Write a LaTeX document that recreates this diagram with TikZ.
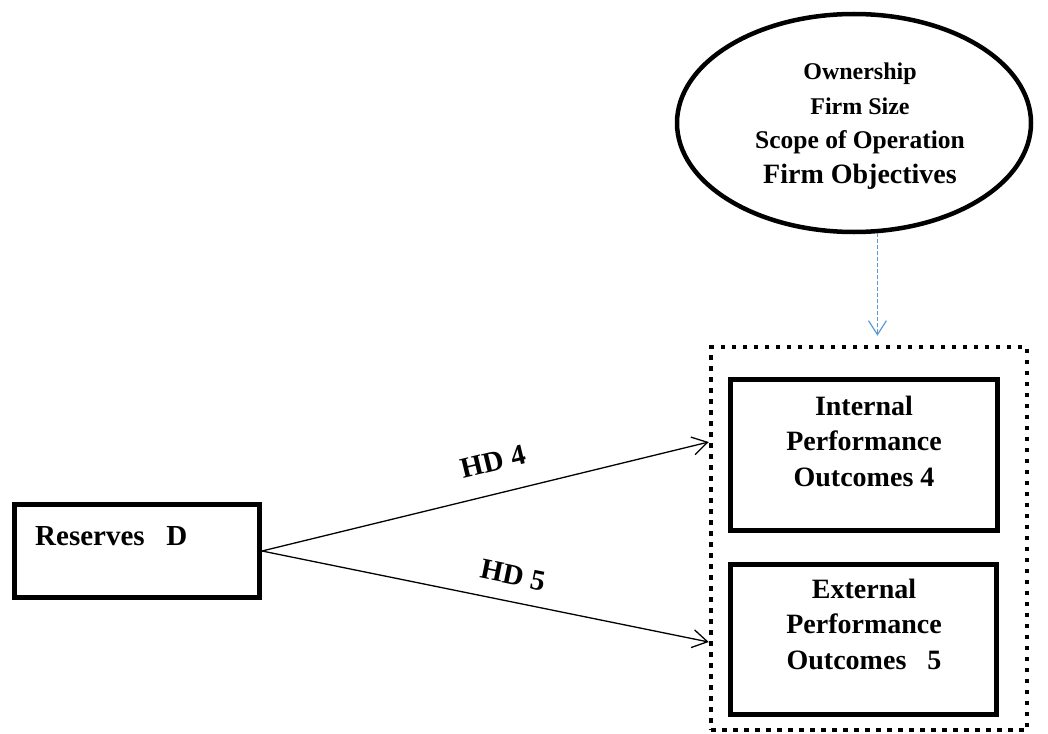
\documentclass[tikz,border=0pt]{standalone}
\usepackage{fontspec}
\setmainfont{Liberation Serif}
\usetikzlibrary{arrows.meta,shapes.geometric}
\definecolor{linkblue}{RGB}{91,155,213}
\begin{document}
\begin{tikzpicture}[x=1pt,y=-1pt,
  solidbox/.style={draw, rectangle, line width=5pt, inner sep=0pt},
  groupbox/.style={draw, rectangle, line width=4.5pt, dash pattern=on 4.5pt off 6.5pt, inner sep=0pt},
  factors/.style={draw, ellipse, line width=4.5pt, inner sep=0pt},
  boxtext/.style={align=center, inner sep=0pt, font=\fontsize{28}{35.5}\selectfont\bfseries},
  factortext/.style={align=center, inner sep=0pt, font=\fontsize{24}{34.5}\selectfont\bfseries},
  pathlabel/.style={font=\fontsize{29}{30}\selectfont\bfseries, inner sep=0pt},
  link/.style={line width=1.3pt, -{Straight Barb[length=15pt,width=18pt,line width=1.3pt]}},
  moderator/.style={draw=linkblue, line width=1.3pt, dash pattern=on 4pt off 2pt,
    -{Straight Barb[length=14pt,width=18pt,line width=1.2pt,sep=0pt]}}]
\useasboundingbox (0,0) rectangle (1048,733);

% contextual factors
\node[factors, minimum width=354pt, minimum height=218pt] (E) at (854,123) {};
\node[factortext] (Etxt) at (860,126)
  {Ownership\\Firm Size\\{\fontsize{25.5}{34.5}\selectfont Scope of Operation}\\{\fontsize{28}{34.5}\selectfont Firm Objectives}};

% grouped outcomes
\node[groupbox, minimum width=316pt, minimum height=383pt] (G) at (869,538.5) {};
\node[solidbox, minimum width=267pt, minimum height=151pt] (I) at (864,455) {};
\node[boxtext] (Itxt) at (864,441) {Internal\\Performance\\Outcomes 4};
\node[solidbox, minimum width=266pt, minimum height=150pt] (X) at (863.5,639.5) {};
\node[boxtext] (Xtxt) at (864,624) {External\\Performance\\Outcomes~~~5};

% predictor
\node[solidbox, minimum width=245pt, minimum height=93pt] (R) at (137,551) {};
\node[pathlabel, anchor=base west] (Rtxt) at (35,545) {Reserves~~~D};

% hypothesised paths
\coordinate (in4) at ([yshift=96.5pt]G.west);
\coordinate (in5) at ([yshift=-103.5pt]G.west);
\draw[link] (R.east) -- node[pathlabel, sloped, above=22pt, pos=0.535] (h4) {HD 4} (in4);
\draw[link] (R.east) -- node[pathlabel, sloped, above=16pt, pos=0.55] (h5) {HD 5} (in5);

% moderating influence
\draw[moderator] (E.-78.5) -- ([yshift=9pt]E.-78.5 |- G.north);
\end{tikzpicture}
\end{document}
